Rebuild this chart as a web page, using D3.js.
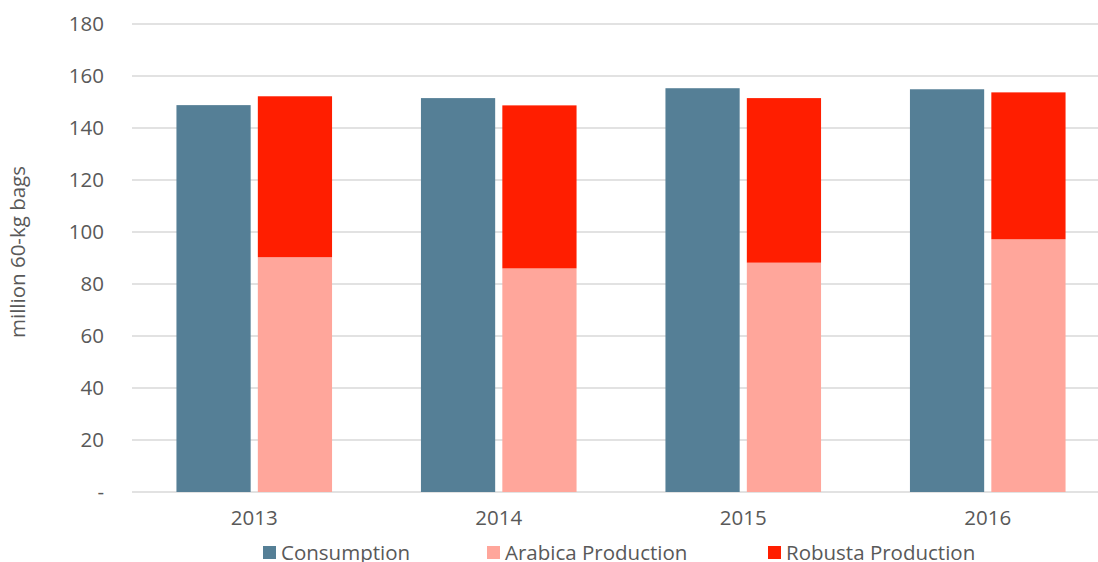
<!DOCTYPE html>
<html><head><meta charset="utf-8">
<script src="https://cdn.jsdelivr.net/npm/d3@7"></script>
<style>body{margin:0;background:#fff}svg{display:block}text{font-family:"Open Sans",sans-serif;fill:#595959}</style>
</head><body><svg id="c" width="1098" height="562"></svg>
<script>
const years = ["2013","2014","2015","2016"];
const consumption = [148.8, 151.5, 155.3, 154.9];
const arabica = [90.3, 86.0, 88.2, 97.2];
const robusta = [61.9, 62.7, 63.3, 56.5];
const yTicks = [0,20,40,60,80,100,120,140,160,180];
const seriesNames = ["Consumption","Arabica Production","Robusta Production"];
const colors = ["#557f96","#ffa69b","#ff1e00"];

const svg = d3.select("#c");
const W = 1098, H = 562;
const y = d3.scaleLinear().domain([0,180]).range([492,24]);
const x0 = d3.scaleBand().domain(years).range([132,1110]).paddingInner(0.3636).paddingOuter(0.1818);
const x1 = d3.scaleBand().domain(["c","p"]).range([0,x0.bandwidth()]).paddingInner(0.088);

// gridlines
svg.append("g").selectAll("line").data(yTicks).join("line")
  .attr("x1",132).attr("x2",W).attr("y1",d=>y(d)).attr("y2",d=>y(d))
  .attr("stroke","#d9d9d9").attr("stroke-width",1.5);

// y axis labels
const yAxis = d3.axisLeft(y).tickValues(yTicks).tickSize(0).tickPadding(0)
  .tickFormat(d=>d===0?"-":d);
const ya = svg.append("g").attr("transform","translate(104,0)").call(yAxis);
ya.select(".domain").remove();
ya.selectAll("text").attr("font-size","20.5px").attr("font-family","Open Sans").attr("fill","#595959");

// x axis labels
const xAxis = d3.axisBottom(x0).tickSize(0).tickPadding(0);
const xa = svg.append("g").attr("transform","translate(0,510)").call(xAxis);
xa.select(".domain").remove();
xa.selectAll("text").attr("font-size","20.5px").attr("font-family","Open Sans").attr("fill","#595959");

// bars
const g = svg.append("g");
years.forEach((yr,i)=>{
  const bx = x0(yr);
  g.append("rect").attr("x",bx+x1("c")).attr("width",x1.bandwidth())
    .attr("y",y(consumption[i])).attr("height",y(0)-y(consumption[i])).attr("fill",colors[0]);
  g.append("rect").attr("x",bx+x1("p")).attr("width",x1.bandwidth())
    .attr("y",y(arabica[i])).attr("height",y(0)-y(arabica[i])).attr("fill",colors[1]);
  g.append("rect").attr("x",bx+x1("p")).attr("width",x1.bandwidth())
    .attr("y",y(arabica[i]+robusta[i])).attr("height",y(arabica[i])-y(arabica[i]+robusta[i])).attr("fill",colors[2]);
});

// y title
svg.append("text").attr("transform","translate(25,252) rotate(-90)")
  .attr("text-anchor","middle").attr("font-size","20.5px").text("million 60-kg bags");

// legend
const legX = [263, 487, 768];
const lg = svg.append("g");
seriesNames.forEach((n,i)=>{
  lg.append("rect").attr("x",legX[i]).attr("y",546).attr("width",13).attr("height",13).attr("fill",colors[i]);
  lg.append("text").attr("x",legX[i]+18).attr("y",560).attr("font-size","20.5px").text(n);
});
</script></body></html>
